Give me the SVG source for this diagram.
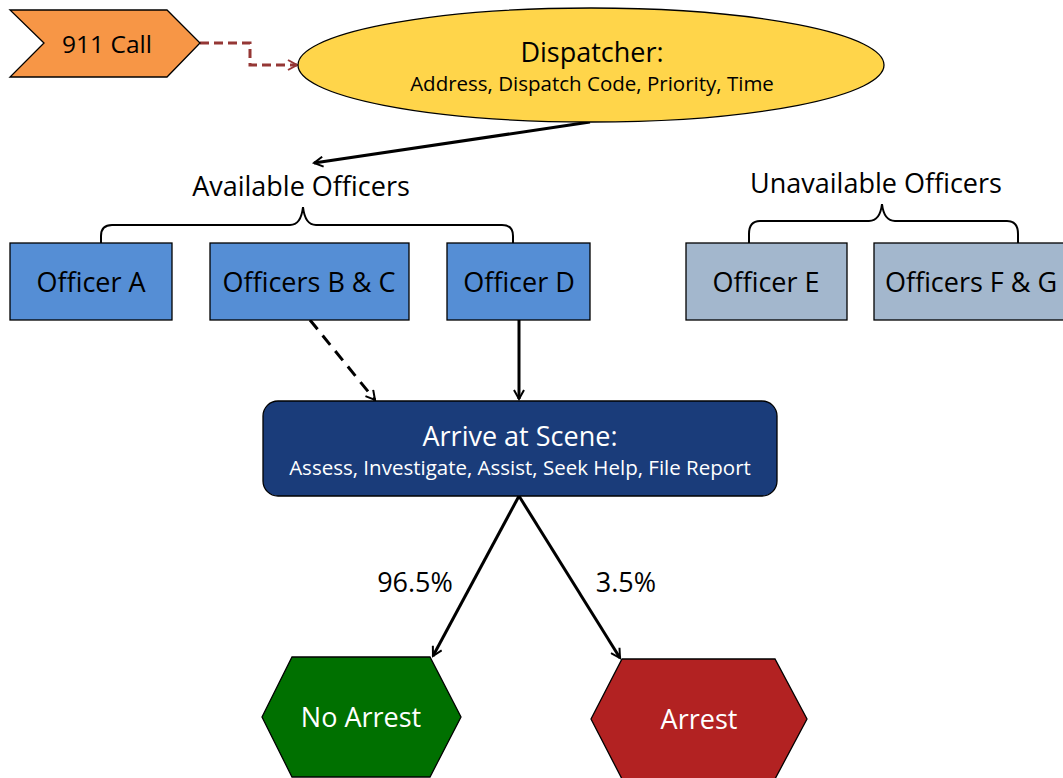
<svg xmlns="http://www.w3.org/2000/svg" width="1063" height="778" viewBox="0 0 1063 778">
<defs>
<style>
text{font-family:"Open Sans","Noto Sans",sans-serif;text-anchor:middle;}
.t{font-size:27px;fill:#000;}
.s{font-size:20.5px;fill:#000;}
.w{fill:#fff;}
.box{stroke:#000;stroke-width:1.3;}
.blue{fill:#558ED5;}
.grey{fill:#A3B7CD;}
.conn{fill:none;stroke:#000;stroke-width:3;}
.brace{fill:none;stroke:#000;stroke-width:2;}
</style>
<marker id="ah" viewBox="0 0 12 12" refX="10" refY="6" markerWidth="12" markerHeight="12" markerUnits="userSpaceOnUse" orient="auto">
<path d="M1,1 L10,6 L1,11" fill="none" stroke="#000" stroke-width="2"/>
</marker>
<marker id="ahr" viewBox="0 0 12 12" refX="10" refY="6" markerWidth="12" markerHeight="12" markerUnits="userSpaceOnUse" orient="auto">
<path d="M1,1 L10,6 L1,11" fill="none" stroke="#953735" stroke-width="2"/>
</marker>
</defs>
<rect width="1063" height="778" fill="#fff"/>
<g id="connectors">
<path d="M200,43 H250 V65 H297" fill="none" stroke="#953735" stroke-width="3" stroke-dasharray="9,5" marker-end="url(#ahr)"/>
<path class="conn" d="M590,122 L314,163" marker-end="url(#ah)"/>
<path class="conn" d="M310,320 L375,400" stroke-dasharray="12,8" marker-end="url(#ah)"/>
<path class="conn" d="M519,320 L519,399" marker-end="url(#ah)"/>
<path class="conn" d="M519,496 L433,656" marker-end="url(#ah)"/>
<path class="conn" d="M519,496 L620,658" marker-end="url(#ah)"/>
<text class="t" x="415" y="592">96.5%</text>
<text class="t" x="626" y="592">3.5%</text>
</g>
<g id="call911">
<polygon class="box" points="10,10 167,10 200,43 167,77 10,77 44,43" fill="#F79646"/>
<text x="107" y="53" style="font-size:24.5px">911 Call</text>
</g>
<g id="dispatcher">
<ellipse class="box" cx="591" cy="65" rx="293" ry="57" fill="#FFD54A"/>
<text class="t" x="592" y="62">Dispatcher:</text>
<text class="s" x="592" y="91">Address, Dispatch Code, Priority, Time</text>
</g>
<g id="available">
<text class="t" x="301" y="196">Available Officers</text>
<path class="brace" d="M101,243 V236 Q101,225 112,225 H290 Q301,225 303,207 Q305,225 316,225 H502 Q513,225 513,236 V243"/>
</g>
<g id="unavailable">
<text class="t" x="876" y="193">Unavailable Officers</text>
<path class="brace" d="M749,243 V234 Q749,221 760,221 H869 Q880,221 882,204 Q884,221 895,221 H1007 Q1018,221 1018,234 V243"/>
</g>
<g id="officerA"><rect class="box blue" x="10" y="243" width="162" height="77"/><text class="t" x="91" y="292">Officer A</text></g>
<g id="officerBC"><rect class="box blue" x="210" y="243" width="199" height="77"/><text class="t" x="309" y="292">Officers B &amp; C</text></g>
<g id="officerD"><rect class="box blue" x="447" y="243" width="143" height="77"/><text class="t" x="519" y="292">Officer D</text></g>
<g id="officerE"><rect class="box grey" x="686" y="243" width="161" height="77"/><text class="t" x="766" y="292">Officer E</text></g>
<g id="officerFG"><rect class="box grey" x="874" y="243" width="195" height="77"/><text class="t" x="971" y="292">Officers F &amp; G</text></g>
<g id="scene">
<rect class="box" x="263" y="401" width="514" height="95" rx="15" fill="#1A3C7A"/>
<text class="t w" x="520" y="446">Arrive at Scene:</text>
<text class="s w" x="520" y="475">Assess, Investigate, Assist, Seek Help, File Report</text>
</g>
<g id="noarrest">
<polygon class="box" points="262,717 292,657 430,657 461,717 430,777 292,777" fill="#007000"/>
<text class="t w" x="361" y="727">No Arrest</text>
</g>
<g id="arrest">
<polygon class="box" points="591,719 622,659 775,659 807,719 775,779 622,779" fill="#B22222"/>
<text class="t w" x="699" y="729">Arrest</text>
</g>
</svg>
